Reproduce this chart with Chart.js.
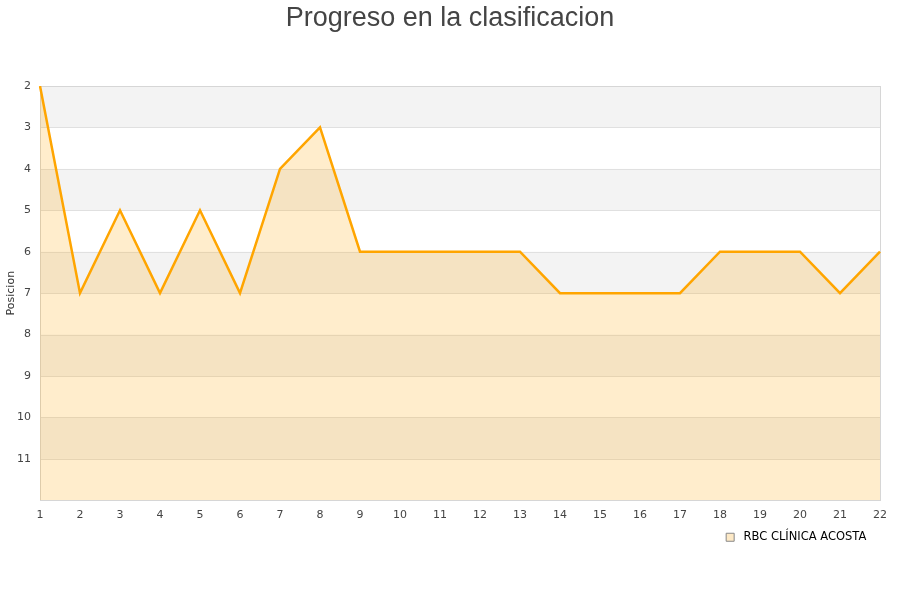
<!DOCTYPE html>
<html>
<head>
<meta charset="utf-8">
<script src="https://cdn.jsdelivr.net/npm/chart.js@4/dist/chart.umd.min.js"></script>
<style>
  body{margin:0;background:#fff;}
  #wrap{width:900px;height:600px;}
</style>
</head>
<body>
<div id="wrap"><canvas id="chart" width="900" height="600"></canvas></div>
<script>
// jornadas (eje x) y posicion en la tabla
const jornadas = ["1","2","3","4","5","6","7","8","9","10","11","12","13","14","15","16","17","18","19","20","21","22"];
const posiciones = [2,7,5,7,5,7,4,3,6,6,6,6,6,7,7,7,7,6,6,6,7,6];
const equipo = "RBC CLÍNICA ACOSTA";
const titulo = "Progreso en la clasificacion";
const posMin = 2, posMax = 12;

// bandas alternas gris / blanco detras de la serie
const bandas = {
    id: "bandas",
    beforeDatasetsDraw(chart){
        const ctx = chart.ctx, a = chart.chartArea, y = chart.scales.y;
        ctx.save();
        for(let v = posMin; v < posMax; v++){
            if((v - posMin) % 2 === 0){
                let y1 = y.getPixelForValue(v), y2 = y.getPixelForValue(v+1);
                ctx.fillStyle = "#f3f3f3";
                ctx.fillRect(a.left, y1, a.right - a.left, y2 - y1);
            }
        }
        ctx.strokeStyle = "#e0e0e0";
        ctx.lineWidth = 1;
        for(let v = posMin; v <= posMax; v++){
            let py = Math.round(y.getPixelForValue(v)) + 0.5;
            ctx.beginPath();
            ctx.moveTo(a.left, py);
            ctx.lineTo(a.right, py);
            ctx.stroke();
        }
        ctx.strokeStyle = "#d6d6d6";
        ctx.strokeRect(Math.round(a.left)+0.5, Math.round(a.top)+0.5, Math.round(a.right-a.left), Math.round(a.bottom-a.top));
        ctx.restore();
    },
    // titulo centrado sobre todo el lienzo
    afterDraw(chart){
        const ctx = chart.ctx;
        ctx.save();
        ctx.fillStyle = "#444";
        ctx.font = "27px 'Liberation Sans', Arial, sans-serif";
        ctx.textAlign = "center";
        ctx.textBaseline = "alphabetic";
        ctx.fillText(titulo, chart.width/2, 26);
        ctx.restore();
    }
};

new Chart(document.getElementById("chart"), {
    type: "line",
    data: {
        labels: jornadas,
        datasets: [{
            label: equipo,
            data: posiciones,
            borderColor: "#ffa500",
            backgroundColor: "rgba(255,165,0,0.2)",
            borderWidth: 2.5,
            pointRadius: 0,
            tension: 0,
            fill: "start"
        }]
    },
    options: {
        responsive: false,
        animation: false,
        layout: {padding: {left: 0, right: 20, top: 86, bottom: 47}},
        plugins: {
            title: {display: false},
            legend: {
                position: "bottom",
                align: "end",
                labels: {
                    color: "#222",
                    font: {family: "DejaVu Sans", size: 11.5},
                    boxWidth: 8,
                    boxHeight: 8,
                    generateLabels(chart){
                        const ds = chart.data.datasets[0];
                        return [{text: " " + ds.label + "\u00a0", fillStyle: "#fde9c6", strokeStyle: "#888", lineWidth: 1, datasetIndex: 0}];
                    }
                }
            },
            tooltip: {enabled: false}
        },
        scales: {
            x: {
                grid: {display: false},
                border: {display: false},
                ticks: {color: "#444", padding: 0, font: {family: "DejaVu Sans", size: 11}, maxRotation: 0, autoSkip: false}
            },
            y: {
                reverse: true,
                min: posMin,
                max: posMax,
                grid: {display: false},
                border: {display: false},
                title: {display: true, text: "Posicion", color: "#333", font: {family: "DejaVu Sans", size: 11}, padding: {top: 5, bottom: 0}},
                ticks: {
                    stepSize: 1,
                    padding: 1,
                    color: "#444",
                    font: {family: "DejaVu Sans", size: 11},
                    callback: (v) => v === posMax ? "" : v
                },
                afterFit(scale){ scale.width = 40; }
            }
        }
    },
    plugins: [bandas]
});
</script>
</body>
</html>
